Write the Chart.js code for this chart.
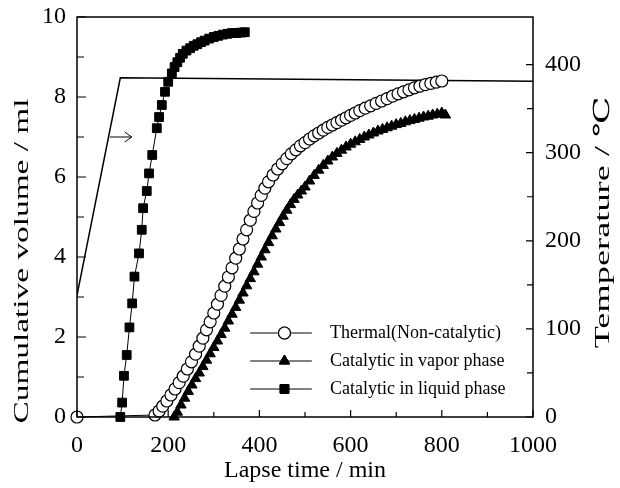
<!DOCTYPE html>
<html>
<head>
<meta charset="utf-8">
<script src="https://cdn.jsdelivr.net/npm/chart.js@4.4.0/dist/chart.umd.min.js"></script>
<style>
  html, body { margin: 0; padding: 0; background: #fff; }
  #wrap { width: 620px; height: 488px; }
</style>
</head>
<body>
<div id="wrap"><canvas id="chart" width="620" height="488"></canvas></div>
<script>
// Thermal (non-catalytic): time (min) / cumulative volume (ml)
const thermalTime = [0, 171, 180, 188, 197, 206, 215, 224, 233, 242, 251, 260, 268, 276, 284, 292, 300, 308, 316, 324, 332, 340, 348, 356, 364, 372, 380, 388, 396, 404, 412, 420, 430, 440, 450, 460, 470, 480, 490, 500, 510, 520, 530, 540, 550, 560, 570, 580, 590, 600, 610, 620, 632, 644, 656, 668, 680, 692, 704, 716, 728, 740, 752, 764, 776, 788, 800];
const thermalVol = [0, 0.05, 0.15, 0.27, 0.4, 0.55, 0.7, 0.86, 1.02, 1.2, 1.38, 1.57, 1.77, 1.97, 2.18, 2.38, 2.6, 2.82, 3.04, 3.27, 3.5, 3.73, 3.97, 4.2, 4.45, 4.68, 4.92, 5.14, 5.35, 5.54, 5.72, 5.88, 6.05, 6.2, 6.33, 6.46, 6.58, 6.68, 6.78, 6.86, 6.95, 7.03, 7.1, 7.17, 7.24, 7.3, 7.36, 7.42, 7.48, 7.54, 7.6, 7.66, 7.72, 7.78, 7.84, 7.9, 7.96, 8.02, 8.08, 8.13, 8.18, 8.23, 8.27, 8.31, 8.34, 8.37, 8.4];

// Catalytic in vapor phase
const vaporTime = [213, 220, 228, 236, 244, 252, 260, 268, 276, 284, 292, 300, 308, 316, 324, 332, 340, 348, 356, 364, 372, 380, 388, 396, 404, 412, 420, 428, 436, 444, 452, 460, 468, 476, 484, 492, 500, 510, 520, 530, 540, 550, 560, 570, 580, 590, 600, 610, 620, 630, 640, 650, 660, 670, 680, 690, 700, 710, 720, 730, 740, 750, 760, 770, 780, 790, 800, 808];
const vaporVol = [0, 0.12, 0.3, 0.47, 0.64, 0.8, 0.96, 1.1, 1.26, 1.42, 1.58, 1.74, 1.9, 2.06, 2.22, 2.4, 2.57, 2.74, 2.92, 3.1, 3.28, 3.46, 3.63, 3.82, 4.0, 4.18, 4.36, 4.53, 4.7, 4.86, 5.02, 5.17, 5.31, 5.44, 5.55, 5.65, 5.75, 5.9, 6.04, 6.17, 6.29, 6.4, 6.5, 6.59, 6.67, 6.75, 6.82, 6.88, 6.94, 7.0, 7.05, 7.1, 7.15, 7.19, 7.23, 7.27, 7.31, 7.34, 7.38, 7.41, 7.44, 7.47, 7.5, 7.52, 7.55, 7.57, 7.6, 7.55];

// Catalytic in liquid phase
const liquidTime = [95, 99, 103, 109, 115, 121, 126, 136, 142, 145, 153, 158, 165, 175, 180, 186, 193, 200, 208, 214, 220, 226, 232, 240, 248, 256, 264, 272, 280, 290, 300, 310, 320, 330, 340, 350, 360, 368];
const liquidVol = [0, 0.36, 1.03, 1.55, 2.24, 2.84, 3.51, 4.09, 4.68, 5.22, 5.65, 6.09, 6.55, 7.22, 7.5, 7.8, 8.13, 8.38, 8.59, 8.75, 8.87, 8.98, 9.08, 9.16, 9.22, 9.28, 9.32, 9.37, 9.41, 9.46, 9.5, 9.53, 9.56, 9.58, 9.6, 9.6, 9.61, 9.62];

// Temperature program (right axis)
const tempTime = [0, 95, 1000];
const tempValue = [138, 385, 381];

const seriesNames = ["Thermal(Non-catalytic)", "Catalytic in vapor phase", "Catalytic in liquid phase"];
const xTicks = [0, 200, 400, 600, 800, 1000];
const volTicks = [0, 2, 4, 6, 8, 10];
const tempTicks = [0, 100, 200, 300, 400];
const volTitle = "Cumulative volume / ml";
const tempTitle = "Temperature / ℃";

const serif = "'Liberation Serif', 'DejaVu Serif', serif";

function pts(xs, ys) {
  return xs.map((x, i) => ({ x: x, y: ys[i] }));
}

// every tick value incl. minor ones (half steps between labelled ones)
function withMinor(list) {
  const out = [];
  const step = list[1] - list[0];
  list.forEach((v, i) => {
    out.push({ value: v });
    if (i < list.length - 1) out.push({ value: v + step / 2 });
  });
  return out;
}

// no extra room for half labels at the ends
function noPad(s) {
  s.paddingTop = 0; s.paddingBottom = 0;
  s.paddingLeft = 0; s.paddingRight = 0;
}

// vertical title, read bottom to top, stretched along the text like the scan
function sideTitle(ctx, text, x, y, len) {
  ctx.save();
  ctx.font = "22px " + serif;
  const w = ctx.measureText(text).width;
  ctx.translate(x, y);
  ctx.rotate(-Math.PI / 2);
  ctx.scale(len / w, 1);
  ctx.fillStyle = "#000";
  ctx.textAlign = "center";
  ctx.textBaseline = "middle";
  ctx.fillText(text, 0, 0);
  ctx.restore();
}

// frame, inward tick marks, arrow, titles and legend
const decor = {
  id: "decor",
  afterDraw(chart) {
    const ctx = chart.ctx;
    const a = chart.chartArea;
    const sx = chart.scales.x, sy = chart.scales.y, st = chart.scales.y2;
    ctx.save();
    ctx.strokeStyle = "#000";
    ctx.lineWidth = 1.5;
    ctx.strokeRect(a.left, a.top, a.right - a.left, a.bottom - a.top);

    ctx.lineWidth = 1.2;
    ctx.beginPath();
    sx.ticks.forEach(t => {
      const px = sx.getPixelForValue(t.value);
      const len = xTicks.includes(t.value) ? 7 : 5;
      ctx.moveTo(px, a.bottom); ctx.lineTo(px, a.bottom - len);
    });
    sy.ticks.forEach(t => {
      const py = sy.getPixelForValue(t.value);
      const len = volTicks.includes(t.value) ? 9 : 7;
      ctx.moveTo(a.left, py); ctx.lineTo(a.left + len, py);
    });
    st.ticks.forEach(t => {
      const py = st.getPixelForValue(t.value);
      const len = tempTicks.includes(t.value) ? 7 : 6;
      ctx.moveTo(a.right, py); ctx.lineTo(a.right - len, py);
    });
    ctx.stroke();

    // arrow pointing to the temperature axis
    const ay = sy.getPixelForValue(7.0);
    const ax0 = sx.getPixelForValue(72), ax1 = sx.getPixelForValue(120);
    ctx.lineWidth = 1;
    ctx.beginPath();
    ctx.moveTo(ax0, ay); ctx.lineTo(ax1, ay);
    ctx.moveTo(ax1 - 7, ay - 5); ctx.lineTo(ax1, ay); ctx.lineTo(ax1 - 7, ay + 5);
    ctx.stroke();

    sideTitle(ctx, volTitle, 22, sy.getPixelForValue(3.9), 325);
    sideTitle(ctx, tempTitle, 603, st.getPixelForValue(221), 252);

    // legend
    const lx0 = sx.getPixelForValue(380), lx1 = sx.getPixelForValue(515);
    const mx = sx.getPixelForValue(455);
    const rows = [sy.getPixelForValue(2.1), sy.getPixelForValue(1.4), sy.getPixelForValue(0.7)];
    ctx.font = "18px " + serif;
    ctx.textBaseline = "middle";
    ctx.textAlign = "left";
    for (let i = 0; i < 3; i++) {
      const ds = chart.data.datasets[i];
      const y = rows[i];
      ctx.lineWidth = 1;
      ctx.strokeStyle = "#000";
      ctx.beginPath();
      ctx.moveTo(lx0, y); ctx.lineTo(lx1, y);
      ctx.stroke();
      Chart.helpers.drawPoint(ctx, {
        pointStyle: ds.pointStyle,
        radius: ds.pointRadius,
        borderWidth: ds.pointBorderWidth,
        rotation: 0
      }, mx, y);
      ctx.fillStyle = ds.pointBackgroundColor;
      ctx.strokeStyle = "#000";
      ctx.lineWidth = ds.pointBorderWidth;
      ctx.fill();
      ctx.stroke();
      ctx.fillStyle = "#000";
      ctx.fillText(seriesNames[i], sx.getPixelForValue(555), y);
    }
    ctx.restore();
  }
};

new Chart(document.getElementById("chart"), {
  type: "scatter",
  data: {
    datasets: [
      {
        label: seriesNames[0],
        data: pts(thermalTime, thermalVol),
        showLine: true,
        borderColor: "#000",
        borderWidth: 1,
        pointStyle: "circle",
        pointRadius: 6,
        pointBackgroundColor: "#fff",
        pointBorderColor: "#000",
        pointBorderWidth: 1.2,
        yAxisID: "y",
        order: 1,
        clip: false
      },
      {
        label: seriesNames[1],
        data: pts(vaporTime, vaporVol),
        showLine: true,
        borderColor: "#000",
        borderWidth: 1,
        pointStyle: "triangle",
        pointRadius: 6,
        pointBackgroundColor: "#000",
        pointBorderColor: "#000",
        pointBorderWidth: 1,
        yAxisID: "y",
        order: 2,
        clip: false
      },
      {
        label: seriesNames[2],
        data: pts(liquidTime, liquidVol),
        showLine: true,
        borderColor: "#000",
        borderWidth: 1,
        pointStyle: "rect",
        pointRadius: 6.2,
        pointBackgroundColor: "#000",
        pointBorderColor: "#000",
        pointBorderWidth: 1,
        yAxisID: "y",
        order: 3,
        clip: false
      },
      {
        label: "Temperature",
        data: pts(tempTime, tempValue),
        showLine: true,
        borderColor: "#000",
        borderWidth: 1.5,
        pointRadius: 0,
        yAxisID: "y2",
        order: 4
      }
    ]
  },
  options: {
    responsive: false,
    animation: false,
    layout: { padding: { top: 17, left: 0, right: 0, bottom: 0 } },
    plugins: { legend: { display: false }, tooltip: { enabled: false } },
    scales: {
      x: {
        type: "linear",
        min: 0,
        max: 1000,
        afterBuildTicks: s => { s.ticks = withMinor(xTicks); },
        afterFit: s => { s.height = 71; noPad(s); },
        grid: { display: false, drawTicks: false },
        border: { display: false },
        ticks: {
          autoSkip: false,
          maxRotation: 0,
          padding: 14,
          color: "#000",
          font: { family: serif, size: 24 },
          callback: v => (xTicks.includes(v) ? String(v) : "")
        },
        title: {
          display: true,
          text: "Lapse time / min",
          color: "#000",
          font: { family: serif, size: 24 },
          padding: { top: 0, bottom: 3 }
        }
      },
      y: {
        type: "linear",
        position: "left",
        min: 0,
        max: 10,
        afterBuildTicks: s => { s.ticks = withMinor(volTicks); },
        afterFit: s => { s.width = 77; noPad(s); },
        grid: { display: false, drawTicks: false },
        border: { display: false },
        ticks: {
          autoSkip: false,
          padding: 11,
          color: "#000",
          font: { family: serif, size: 24 },
          callback: v => (volTicks.includes(v) ? String(v) : "")
        }
      },
      y2: {
        type: "linear",
        position: "right",
        min: 0,
        max: 454,
        afterBuildTicks: s => { s.ticks = withMinor(tempTicks); },
        afterFit: s => { s.width = 87; noPad(s); },
        grid: { display: false, drawTicks: false },
        border: { display: false },
        ticks: {
          autoSkip: false,
          padding: 12,
          color: "#000",
          font: { family: serif, size: 24 },
          callback: v => (tempTicks.includes(v) ? String(v) : "")
        }
      }
    }
  },
  plugins: [decor]
});
</script>
</body>
</html>
